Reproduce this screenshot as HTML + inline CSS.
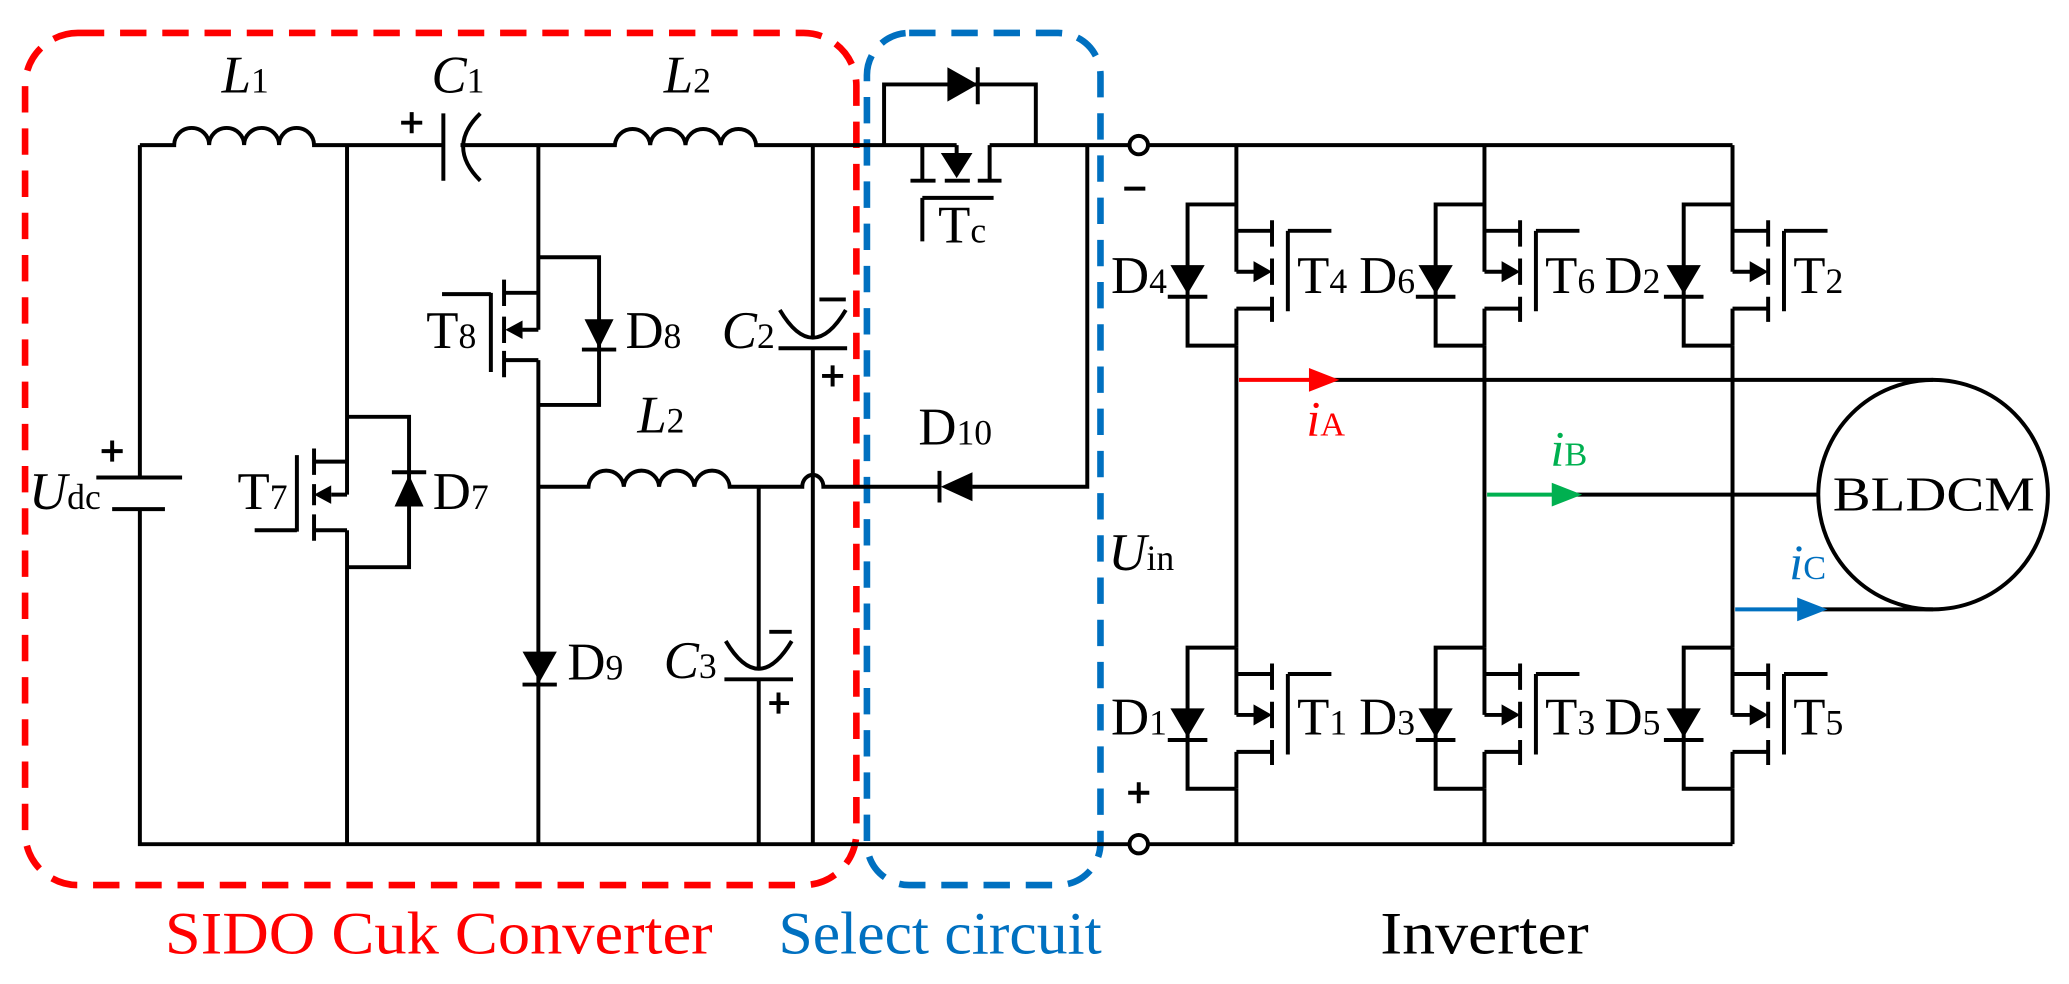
<!DOCTYPE html>
<html><head><meta charset="utf-8"><style>
html,body{margin:0;padding:0;background:#fff;}
svg{display:block;}
text{font-family:"Liberation Serif",serif;}
</style></head><body>
<svg width="2069" height="984" viewBox="0 0 1568 746" preserveAspectRatio="none" xmlns="http://www.w3.org/2000/svg">
<defs>
<g id="sw" fill="none" stroke="#000" stroke-width="3">
  <path d="M0,0 V51 M0,79 V107 M0,0 H-37 V107 H0 M0,20 H27 M0,79 H27 M0,51 H14 M27,12 V32 M27,41 V61 M27,70 V89 M39,20 V81 M39,20 H72 M-52,70 H-22"/>
  <polygon points="13,43 13,59 27,51" fill="#000" stroke="none"/>
  <polygon points="-50,46 -24,46 -37,68" fill="#000" stroke="none"/>
</g>
</defs>

<!-- dashed boxes -->
<rect x="19" y="25" width="630" height="646" rx="40" fill="none" stroke="#ff0000" stroke-width="5" stroke-dasharray="20 12"/>
<rect x="657" y="25" width="177" height="646" rx="32" fill="none" stroke="#0070c0" stroke-width="5" stroke-dasharray="20 12"/>

<g fill="none" stroke="#000" stroke-width="3">
<!-- top wire with L1, C1, L2 -->
<path d="M106,110 H132 a13.25,13 0 0 1 26.5,0 a13.25,13 0 0 1 26.5,0 a13.25,13 0 0 1 26.5,0 a13.25,13 0 0 1 26.5,0 H336"/>
<path d="M336,86 V137 M364,86 Q338,111 364,137"/>
<path d="M349,110 H466 a13.4,13 0 0 1 26.75,0 a13.4,13 0 0 1 26.75,0 a13.4,13 0 0 1 26.75,0 a13.4,13 0 0 1 26.75,0 H725"/>
<path d="M750,110 H1313"/>
<!-- Tc -->
<path d="M699,110 V137 M690,137 H709 M716,137 H735 M741,137 H759 M725,110 V118 M750,137 V110 M699,150 H753 M699,150 V183"/>
<path d="M670,110 V64 H785 V110 M741,51 V79"/>
<!-- left source -->
<path d="M106,110 V362 M73,362 H138 M85,386 H125 M106,386 V640 H1313"/>
<!-- T7 D7 -->
<path d="M263,110 V375 M263,402 V640 M263,316 H310 V430 H263 M263,350 H238 M263,402 H238 M263,375 H251 M238,340 V360 M238,367 V383 M238,390 V410 M225,345 V403 M225,402 H193 M297,358 H323"/>
<!-- T8 D8 -->
<path d="M408,110 V250 M408,273 V640 M408,195 H454 V307 H408 M408,222 H382 M408,273 H382 M408,250 H396 M382,212 V232 M382,240 V260 M382,266 V286 M372,222 V282 M372,223 H335 M441,265 H467"/>
<!-- D9 -->
<path d="M396,519 H422"/>
<!-- lower L2 -->
<path d="M408,369 H446 a13.4,13 0 0 1 26.75,0 a13.4,13 0 0 1 26.75,0 a13.4,13 0 0 1 26.75,0 a13.4,13 0 0 1 26.75,0 H608 a8,9 0 0 1 16,0 H712 M737,369 H824 V110 M712,357 V381"/>
<!-- C3 -->
<path d="M575,369 V506 M550,486 Q575,528 600,486 M549,515 H601 M575,515 V640 M583,479 H600 M583,533 H598 M590,525 V541"/>
<!-- C2 -->
<path d="M616,110 V255 M591,235 Q616,277 641,235 M590,264 H642 M616,264 V640 M621,227 H641 M623,285 H639 M631,277 V293"/>
<!-- plus signs -->
<path d="M304,93 H320 M312,85 V101 M77,342 H93 M85,334 V350 M855,601 H871 M863,593 V609 M852,143 H868"/>
<!-- terminals -->
<circle cx="863" cy="110" r="7" fill="#fff"/>
<circle cx="863" cy="640" r="7" fill="#fff"/>
<!-- inverter legs -->
<path d="M937,110 V155 M937,262 V491 M937,598 V640 M1125,110 V155 M1125,262 V491 M1125,598 V640 M1313,110 V155 M1313,262 V491 M1313,598 V640"/>
<!-- phase wires -->
<path d="M1000,288 H1465 M1190,375 H1378 M1375,462 H1465"/>
<circle cx="1465" cy="375" r="87"/>
</g>
<g fill="#000">
<polygon points="251,368 251,382 238,375"/>
<polygon points="299,384 321,384 310,360"/>
<polygon points="396,243 396,257 383,250"/>
<polygon points="443,242 465,242 454,264"/>
<polygon points="396,494 422,494 409,517"/>
<polygon points="737,358 737,380 713,369"/>
<polygon points="718,51 718,77 741,64"/>
<polygon points="713,116 737,116 725,135"/>
</g>
<use href="#sw" x="937" y="155"/>
<use href="#sw" x="1125" y="155"/>
<use href="#sw" x="1313" y="155"/>
<use href="#sw" x="937" y="491"/>
<use href="#sw" x="1125" y="491"/>
<use href="#sw" x="1313" y="491"/>

<!-- current arrows -->
<path d="M939,288 H995" stroke="#ff0000" stroke-width="3"/>
<polygon points="992,279 992,297 1015,288" fill="#ff0000"/>
<path d="M1127,375 H1180" stroke="#00b050" stroke-width="3"/>
<polygon points="1176,366 1176,384 1199,375" fill="#00b050"/>
<path d="M1315,462 H1365" stroke="#0070c0" stroke-width="3"/>
<polygon points="1362,453 1362,471 1385,462" fill="#0070c0"/>

<!-- labels -->
<g font-size="40" fill="#000">
<text x="168" y="70"><tspan font-style="italic">L</tspan><tspan font-size="27">1</tspan></text>
<text x="327" y="70"><tspan font-style="italic">C</tspan><tspan font-size="27">1</tspan></text>
<text x="503" y="70"><tspan font-style="italic">L</tspan><tspan font-size="27">2</tspan></text>
<text x="483" y="328"><tspan font-style="italic">L</tspan><tspan font-size="27">2</tspan></text>
<text x="547" y="264"><tspan font-style="italic">C</tspan><tspan font-size="27">2</tspan></text>
<text x="503" y="514"><tspan font-style="italic">C</tspan><tspan font-size="27">3</tspan></text>
<text x="22" y="386"><tspan font-style="italic">U</tspan><tspan font-size="27">dc</tspan></text>
<text x="180" y="386">T<tspan font-size="27">7</tspan></text>
<text x="328" y="386">D<tspan font-size="27">7</tspan></text>
<text x="323" y="264">T<tspan font-size="27">8</tspan></text>
<text x="474" y="264">D<tspan font-size="27">8</tspan></text>
<text x="430" y="515">D<tspan font-size="27">9</tspan></text>
<text x="696" y="337">D<tspan font-size="27">10</tspan></text>
<text x="711" y="184">T<tspan font-size="27">c</tspan></text>
<text x="840" y="432"><tspan font-style="italic">U</tspan><tspan font-size="27">in</tspan></text>
<text x="842" y="222">D<tspan font-size="27">4</tspan></text>
<text x="983" y="222">T<tspan font-size="27">4</tspan></text>
<text x="1030" y="222">D<tspan font-size="27">6</tspan></text>
<text x="1171" y="222">T<tspan font-size="27">6</tspan></text>
<text x="1216" y="222">D<tspan font-size="27">2</tspan></text>
<text x="1359" y="222">T<tspan font-size="27">2</tspan></text>
<text x="842" y="557">D<tspan font-size="27">1</tspan></text>
<text x="983" y="557">T<tspan font-size="27">1</tspan></text>
<text x="1030" y="557">D<tspan font-size="27">3</tspan></text>
<text x="1171" y="557">T<tspan font-size="27">3</tspan></text>
<text x="1216" y="557">D<tspan font-size="27">5</tspan></text>
<text x="1359" y="557">T<tspan font-size="27">5</tspan></text>
<text x="1389" y="387" font-size="37" textLength="153" lengthAdjust="spacingAndGlyphs">BLDCM</text>
</g>
<text x="990" y="330" font-size="38" fill="#ff0000"><tspan font-style="italic">i</tspan><tspan font-size="26">A</tspan></text>
<text x="1175" y="353" font-size="38" fill="#00b050"><tspan font-style="italic">i</tspan><tspan font-size="26">B</tspan></text>
<text x="1356" y="439" font-size="38" fill="#0070c0"><tspan font-style="italic">i</tspan><tspan font-size="26">C</tspan></text>

<text x="125" y="723" font-size="46" fill="#ff0000" textLength="415" lengthAdjust="spacingAndGlyphs">SIDO Cuk Converter</text>
<text x="590" y="723" font-size="46" fill="#0070c0" textLength="245" lengthAdjust="spacingAndGlyphs">Select circuit</text>
<text x="1046" y="723" font-size="46" fill="#000" textLength="158" lengthAdjust="spacingAndGlyphs">Inverter</text>
</svg>
</body></html>
